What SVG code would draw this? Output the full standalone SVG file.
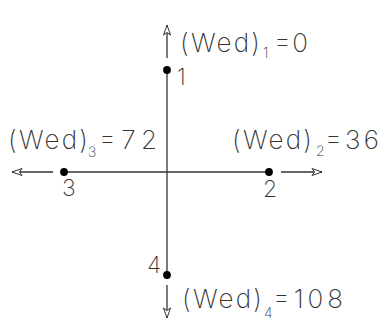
<svg xmlns="http://www.w3.org/2000/svg" width="389" height="320" viewBox="0 0 389 320">
<style>
.ln{stroke:#333;stroke-width:1.3;fill:none}
.dot{fill:#000;stroke:none}
.t,.s,.n{font-family:"Inter","Liberation Sans",Arial,sans-serif;font-weight:200;fill:#333}
.t{font-size:26px}
.s{font-size:14px}
.n{font-size:23px}
</style>
<defs>
<marker id="ah" markerUnits="userSpaceOnUse" markerWidth="14" markerHeight="10" viewBox="-1 -5 13 10" refX="10" refY="0" orient="auto">
<path d="M0,-3.5 L10,0 L0,3.5 L2.5,0 Z" fill="#fff" stroke="#333" stroke-width="1"/>
</marker>
</defs>
<g id="connectors">
<line class="ln" x1="167" y1="70" x2="167" y2="275"/>
<line class="ln" x1="64" y1="172" x2="269" y2="172"/>
<line class="ln" x1="167" y1="58" x2="167" y2="25" marker-end="url(#ah)"/>
<line class="ln" x1="167" y1="285" x2="167" y2="318" marker-end="url(#ah)"/>
<line class="ln" x1="53" y1="172" x2="12" y2="172" marker-end="url(#ah)"/>
<line class="ln" x1="281" y1="172" x2="322" y2="172" marker-end="url(#ah)"/>
</g>
<g id="node1">
<circle class="dot" cx="167" cy="70" r="3.9"/>
<text class="n" x="177" y="85">1</text>
<text class="t" x="180" y="52" textLength="80" lengthAdjust="spacing">(Wed)</text>
<text class="s" x="263" y="58">1</text>
<text class="t" x="274" y="52" textLength="34" lengthAdjust="spacing">=0</text>
</g>
<g id="node2">
<circle class="dot" cx="269" cy="172" r="3.9"/>
<text class="n" x="263" y="197">2</text>
<text class="t" x="232" y="149" textLength="80" lengthAdjust="spacing">(Wed)</text>
<text class="s" x="316" y="156">2</text>
<text class="t" x="325" y="149" textLength="54" lengthAdjust="spacing">=36</text>
</g>
<g id="node3">
<circle class="dot" cx="64" cy="172" r="3.9"/>
<text class="n" x="62" y="196">3</text>
<text class="t" x="8" y="149" textLength="80" lengthAdjust="spacing">(Wed)</text>
<text class="s" x="88" y="157">3</text>
<text class="t" x="99" y="149" textLength="58" lengthAdjust="spacing">=72</text>
</g>
<g id="node4">
<circle class="dot" cx="167" cy="275" r="3.9"/>
<text class="n" x="147" y="273">4</text>
<text class="t" x="182" y="308" textLength="80" lengthAdjust="spacing">(Wed)</text>
<text class="s" x="264" y="318">4</text>
<text class="t" x="273" y="308" textLength="70" lengthAdjust="spacing">=108</text>
</g>
</svg>
